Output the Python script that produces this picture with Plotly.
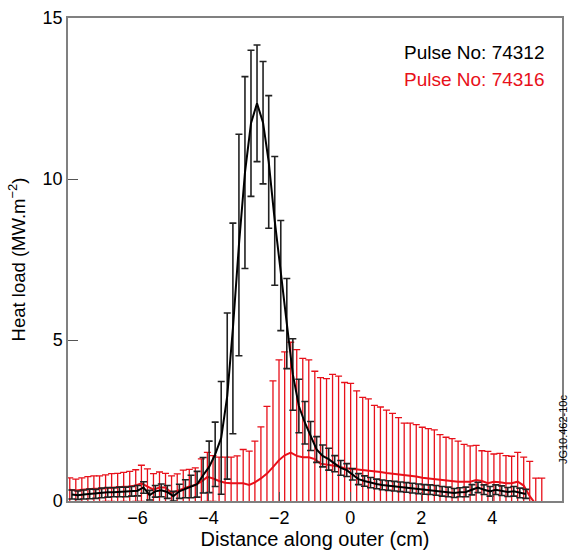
import plotly.graph_objects as go

# ---- data: Pulse No 74312 (black) ----
black_x = [-7.85, -7.68, -7.52, -7.35, -7.18, -7.01, -6.84, -6.67, -6.51, -6.34,
           -6.17, -6.00, -5.83, -5.66, -5.50, -5.33, -5.16, -4.99, -4.82, -4.65,
           -4.49, -4.32, -4.15, -3.98, -3.81, -3.64, -3.47, -3.31, -3.14, -2.97,
           -2.80, -2.63, -2.46, -2.30, -2.13, -1.96, -1.79, -1.62, -1.45, -1.28,
           -1.12, -0.95, -0.78, -0.61, -0.44, -0.27, -0.10, 0.06, 0.23, 0.40,
           0.57, 0.74, 0.90, 1.07, 1.24, 1.41, 1.58, 1.75, 1.92, 2.08,
           2.25, 2.42, 2.59, 2.76, 2.93, 3.09, 3.26, 3.43, 3.60, 3.77,
           3.94, 4.10, 4.27, 4.44, 4.61, 4.78, 4.95]
black_y = [0.20, 0.18, 0.20, 0.22, 0.22, 0.25, 0.27, 0.27, 0.28, 0.28,
           0.30, 0.32, 0.42, 0.18, 0.30, 0.33, 0.28, 0.15, 0.30, 0.38,
           0.45, 0.52, 0.80, 1.06, 1.45, 1.96, 3.26, 5.36, 7.95, 10.20,
           11.73, 12.35, 11.75, 10.53, 8.70, 7.00, 5.51, 3.93, 2.95, 2.43,
           2.02, 1.60, 1.40, 1.30, 1.16, 1.03, 0.96, 0.83, 0.68, 0.62,
           0.57, 0.53, 0.50, 0.48, 0.46, 0.44, 0.42, 0.40, 0.38, 0.36,
           0.35, 0.33, 0.30, 0.28, 0.25, 0.27, 0.28, 0.35, 0.42, 0.35,
           0.30, 0.35, 0.32, 0.28, 0.30, 0.25, 0.22]
black_err = [0.14, 0.13, 0.14, 0.15, 0.14, 0.15, 0.15, 0.14, 0.15, 0.15,
             0.15, 0.16, 0.18, 0.15, 0.18, 0.20, 0.20, 0.15, 0.22, 0.28,
             0.35, 0.40, 0.55, 0.80, 1.00, 1.75, 2.58, 3.27, 3.44, 2.98,
             2.27, 1.81, 1.90, 2.06, 2.00, 1.71, 1.40, 1.11, 0.83, 0.66,
             0.45, 0.40, 0.34, 0.34, 0.25, 0.23, 0.20, 0.18, 0.17, 0.16,
             0.16, 0.15, 0.15, 0.15, 0.15, 0.15, 0.15, 0.15, 0.15, 0.15,
             0.15, 0.15, 0.15, 0.15, 0.14, 0.14, 0.15, 0.16, 0.16, 0.15,
             0.15, 0.15, 0.15, 0.14, 0.15, 0.15, 0.14]

# ---- data: Pulse No 74316 (red) ----
red_x = [-7.91, -7.74, -7.57, -7.40, -7.23, -7.07, -6.90, -6.73, -6.56, -6.39,
         -6.22, -6.05, -5.89, -5.72, -5.55, -5.38, -5.21, -5.04, -4.88, -4.71,
         -4.54, -4.37, -4.20, -4.03, -3.87, -3.70, -3.53, -3.36, -3.19, -3.02,
         -2.85, -2.69, -2.52, -2.35, -2.18, -2.01, -1.85, -1.68, -1.51, -1.34,
         -1.17, -1.00, -0.84, -0.67, -0.50, -0.33, -0.16, 0.01, 0.18, 0.35,
         0.51, 0.68, 0.85, 1.02, 1.19, 1.36, 1.52, 1.69, 1.86, 2.03,
         2.20, 2.37, 2.53, 2.70, 2.87, 3.04, 3.21, 3.38, 3.55, 3.71,
         3.88, 4.05, 4.22, 4.39, 4.55, 4.72, 4.89, 5.06, 5.23, 5.40]
red_y = [0.35, 0.33, 0.35, 0.37, 0.38, 0.38, 0.40, 0.42, 0.42, 0.44,
         0.45, 0.48, 0.55, 0.45, 0.35, 0.42, 0.42, 0.25, 0.32, 0.38,
         0.45, 0.50, 0.60, 0.75, 0.70, 0.62, 0.57, 0.55, 0.55, 0.55,
         0.50, 0.58, 0.70, 0.85, 1.05, 1.27, 1.42, 1.50, 1.40, 1.36,
         1.36, 1.30, 1.16, 1.12, 1.10, 1.07, 1.02, 1.00, 0.98, 0.97,
         0.96, 0.92, 0.90, 0.87, 0.85, 0.83, 0.81, 0.79, 0.76, 0.72,
         0.70, 0.68, 0.65, 0.63, 0.60, 0.60, 0.60, 0.60, 0.65, 0.62,
         0.55, 0.60, 0.58, 0.55, 0.55, 0.60, 0.48, 0.15, -0.10, -0.10]
red_err = [0.37, 0.35, 0.37, 0.39, 0.40, 0.40, 0.41, 0.43, 0.44, 0.45,
           0.47, 0.49, 0.56, 0.55, 0.50, 0.48, 0.44, 0.53, 0.52, 0.58,
           0.53, 0.53, 0.71, 0.76, 0.71, 0.74, 0.79, 0.81, 0.85, 1.05,
           1.05, 1.28, 1.60, 2.09, 2.68, 3.11, 3.21, 3.43, 3.30, 3.07,
           3.02, 2.73, 2.67, 2.68, 2.83, 2.81, 2.66, 2.65, 2.44, 2.25,
           2.21, 2.05, 2.02, 1.95, 1.87, 1.76, 1.61, 1.63, 1.61, 1.57,
           1.55, 1.53, 1.41, 1.35, 1.34, 1.26, 1.16, 1.11, 1.08, 0.94,
           0.99, 0.86, 0.90, 0.86, 0.84, 0.91, 0.88, 1.08, 0.81, 0.81]

x_ticks = [-6, -4, -2, 0, 2, 4]
y_ticks = [0, 5, 10, 15]
labels = ["Pulse No: 74312", "Pulse No: 74316"]
FONT = "Liberation Sans, Arial, Helvetica, sans-serif"
RED = "#e8101a"

fig = go.Figure()
fig.add_trace(go.Scatter(
    x=red_x, y=red_y, mode="lines", name=labels[1],
    line=dict(color=RED, width=2),
    error_y=dict(type="data", array=red_err, visible=True,
                 color=RED, thickness=1.3, width=3.5),
))
fig.add_trace(go.Scatter(
    x=black_x, y=black_y, mode="lines", name=labels[0],
    line=dict(color="#000000", width=2),
    error_y=dict(type="data", array=black_err, visible=True,
                 color="#222222", thickness=1.6, width=3.5),
))

fig.add_annotation(x=0.97, y=0.954, xref="paper", yref="paper",
                   text=labels[0], showarrow=False, xanchor="right",
                   font=dict(family=FONT, size=19, color="#000000"))
fig.add_annotation(x=0.97, y=0.899, xref="paper", yref="paper",
                   text=labels[1], showarrow=False, xanchor="right",
                   font=dict(family=FONT, size=19, color=RED))
fig.add_annotation(x=1.018, y=0.072, xref="paper", yref="paper",
                   text="JG10.462-10c", showarrow=False, textangle=-90,
                   font=dict(family=FONT, size=11, color="#000000"))

fig.update_layout(
    width=575, height=555,
    margin=dict(l=68, r=13, t=8, b=50),
    paper_bgcolor="white", plot_bgcolor="white",
    showlegend=False,
    font=dict(family=FONT, size=18, color="#000000"),
    xaxis=dict(range=[-7.96, 5.97], tickvals=x_ticks,
               ticktext=["\u2212" + str(-v) if v < 0 else str(v) for v in x_ticks],
               ticks="inside", ticklen=9, tickcolor="#555555", tickwidth=1,
               showline=True, linecolor="#808080", linewidth=1.5, mirror=True,
               showgrid=False, zeroline=False,
               title=dict(text="Distance along outer (cm)", standoff=5,
                          font=dict(size=20))),
    yaxis=dict(range=[0, 15], tickvals=y_ticks,
               ticks="inside", ticklen=10, tickcolor="#555555", tickwidth=1,
               showline=True, linecolor="#808080", linewidth=1.5, mirror=True,
               showgrid=False, zeroline=False,
               title=dict(text="Heat load (MW.m<sup>\u22122</sup>)", standoff=12,
                          font=dict(size=18.5))),
)

fig.write_html("out.html")
